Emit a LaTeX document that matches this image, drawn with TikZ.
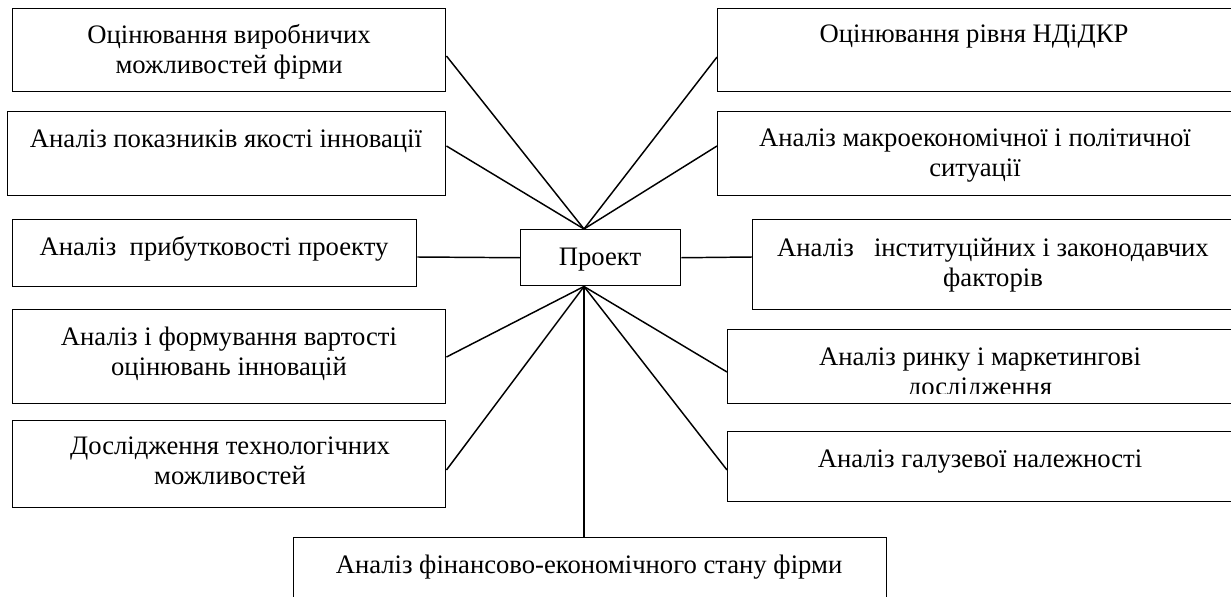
\documentclass[tikz,border=0pt]{standalone}
\usepackage{fontspec}
\setmainfont{Liberation Serif}
\usetikzlibrary{calc}
\begin{document}
\begin{tikzpicture}[x=0.75pt,y=-0.75pt,
  box/.style={draw, line width=1.1pt, rectangle, inner sep=0pt, anchor=north west},
  lbl/.style={font=\fontsize{20}{22.5}\selectfont, align=center, anchor=base, inner sep=0pt},
  link/.style={line width=1.1pt}]
\useasboundingbox (0,0) rectangle (1231,596);
\clip (0,0) rectangle (1231,596);
% boxes
\node[box, minimum width=433*0.75pt, minimum height=83*0.75pt] (b1) at (12,8) {};
\node[box, minimum width=438*0.75pt, minimum height=84*0.75pt] (b2) at (7,111) {};
\node[box, minimum width=404*0.75pt, minimum height=67*0.75pt] (b3) at (12,219) {};
\node[box, minimum width=433*0.75pt, minimum height=94*0.75pt] (b4) at (12,309) {};
\node[box, minimum width=433*0.75pt, minimum height=87*0.75pt] (b5) at (12,420) {};
\node[box, minimum width=593*0.75pt, minimum height=80*0.75pt] (bf) at (293,537) {};
\node[box, minimum width=160*0.75pt, minimum height=56*0.75pt] (p) at (520,229) {};
\node[box, minimum width=530*0.75pt, minimum height=83*0.75pt] (r1) at (717,8) {};
\node[box, minimum width=530*0.75pt, minimum height=84*0.75pt] (r2) at (717,111) {};
\node[box, minimum width=500*0.75pt, minimum height=90*0.75pt] (r3) at (752,219) {};
\node[box, minimum width=520*0.75pt, minimum height=74*0.75pt] (r4) at (727,329) {};
\node[box, minimum width=520*0.75pt, minimum height=70*0.75pt] (r5) at (727,431) {};
% texts (base = baseline of the last line)
\node[lbl] (t1) at (229,73) {Оцінювання виробничих\\можливостей фірми};
\node[lbl] (t2) at (226,147) {Аналіз показників якості інновації};
\node[lbl] (t3) at (214,255) {Аналіз\ \ прибутковості проекту};
\node[lbl] (tp) at (600,265) {Проект};
\node[lbl] (t4) at (229,375) {Аналіз і формування вартості\\оцінювань інновацій};
\node[lbl] (t5) at (230,484) {Дослідження технологічних\\можливостей};
\node[lbl] (tf) at (589,573) {Аналіз фінансово-економічного стану фірми};
\node[lbl] (tr1) at (974,42) {Оцінювання рівня НДіДКР};
\node[lbl] (tr2) at (975,176) {Аналіз макроекономічної і політичної\\ситуації};
\node[lbl] (tr3) at (993,286) {Аналіз\ \ \ інституційних і законодавчих\\факторів};
\begin{scope}
\clip (700,329) rectangle (1231,393);
\node[lbl] (tr4) at (980,395) {Аналіз ринку і маркетингові\\дослідження};
\end{scope}
\node[lbl] (tr5) at (980,467) {Аналіз галузевої належності};
% connector points
\coordinate (hubT) at ($(p.north west)+(64,0)$);
\coordinate (hubB) at ($(p.south west)+(64,0)$);
\coordinate (b1c) at ($(b1.north east)+(0,48)$);
\coordinate (b2c) at ($(b2.north east)+(0,35)$);
\coordinate (r1c) at ($(r1.north west)+(0,49)$);
\coordinate (r2c) at ($(r2.north west)+(0,35)$);
\coordinate (b3c) at ($(b3.north east)+(0,38)$);
\coordinate (r3c) at ($(r3.north west)+(0,38)$);
\coordinate (b4c) at ($(b4.north east)+(0,48)$);
\coordinate (b5c) at ($(b5.north east)+(0,50)$);
\coordinate (r4c) at ($(r4.north west)+(0,43)$);
\coordinate (r5c) at ($(r5.north west)+(0,39)$);
% connectors
\draw[link] (b1c) -- (hubT);
\draw[link] (b2c) -- (hubT);
\draw[link] (r1c) -- (hubT);
\draw[link] (r2c) -- (hubT);
\draw[link] (b3c) -- (p.west);
\draw[link] (p.east) -- (r3c);
\draw[link] (hubB) -- (b4c);
\draw[link] (hubB) -- (b5c);
\draw[link] (hubB) -- (r4c);
\draw[link] (hubB) -- (r5c);
\draw[link] (hubB) -- (hubB |- bf.north);
\end{tikzpicture}
\end{document}
